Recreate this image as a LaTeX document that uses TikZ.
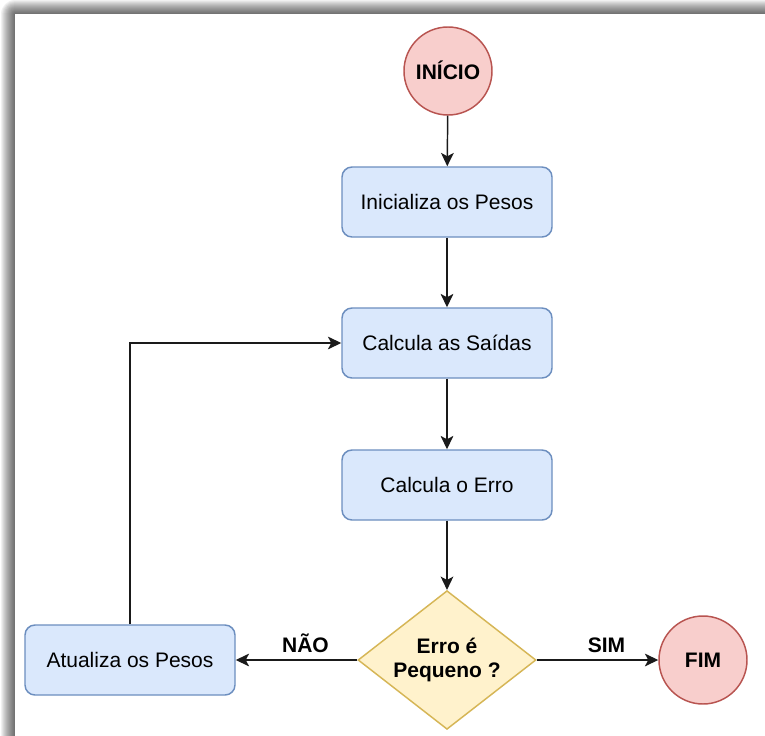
\documentclass[tikz,border=0pt]{standalone}
\usepackage{fontspec}
\setmainfont{Liberation Sans}
\usetikzlibrary{shapes.geometric,arrows.meta}
\definecolor{procfill}{HTML}{DAE8FC}
\definecolor{procline}{HTML}{6C8EBF}
\definecolor{termfill}{HTML}{F8CECC}
\definecolor{termline}{HTML}{B85450}
\definecolor{decfill}{HTML}{FFF2CC}
\definecolor{decline}{HTML}{D6B656}
\definecolor{flowline}{HTML}{1A1A1A}
\newcommand{\chartsize}{\fontsize{15.75pt}{18.5pt}\selectfont}
\tikzset{
  proc/.style={draw=procline, fill=procfill, line width=1.1pt, rounded corners=7.5pt,
    minimum width=157.5pt, minimum height=52.5pt, inner sep=0pt, font=\chartsize},
  term/.style={circle, draw=termline, fill=termfill, line width=1.1pt,
    minimum size=66pt, inner sep=0pt, font=\chartsize\bfseries},
  decision/.style={diamond, draw=decline, fill=decfill, line width=1.1pt,
    minimum width=133.5pt, minimum height=104pt, inner sep=0pt},
  dectext/.style={align=center, font=\chartsize\bfseries, inner sep=0pt},
  flow/.style={draw=flowline, line width=1.1pt, -{Stealth[length=10pt,width=9.5pt,inset=2.5pt]}},
  edgelabel/.style={font=\chartsize\bfseries, inner sep=0pt, above=5pt, xshift=6.75pt}
}
\begin{document}
\begin{tikzpicture}[x=0.75pt, y=-0.75pt]
\useasboundingbox (0,0) rectangle (765,736);
% soft shadow along the top and left edges of the page
\begin{scope}
  \clip (0,0) rectangle (765,736);
  \foreach \k in {1,...,14} {
    \fill[black, opacity=0.055, rounded corners=\k*0.75pt] (15-\k,14-\k) rectangle (800,800);
  }
  \fill[white] (15,14) rectangle (800,800);
\end{scope}

% nodes
\node[term] (start) at (448,71) {\raisebox{1pt}{INÍCIO}};
\node[proc] (init) at (447,202) {Inicializa os Pesos};
\node[proc] (outputs) at (447,343) {Calcula as Saídas};
\node[proc] (error) at (447,485) {Calcula o Erro};
\node[decision] (check) at (447,660) {};
\node[dectext] (checktext) at (check.center) {Erro é\\Pequeno ?};
\node[proc] (update) at (130,660) {Atualiza os Pesos};
\node[term] (stop) at (703,660) {FIM};

% connectors
\draw[flow] (start) -- (init);
\draw[flow] (init) -- (outputs);
\draw[flow] (outputs) -- (error);
\draw[flow] (error) -- (check);
\draw[flow] (check) -- node[edgelabel] {NÃO} (update);
\draw[flow] (check) -- node[edgelabel] {SIM} (stop);
\draw[flow] (update.north) |- (outputs.west);
\end{tikzpicture}
\end{document}
